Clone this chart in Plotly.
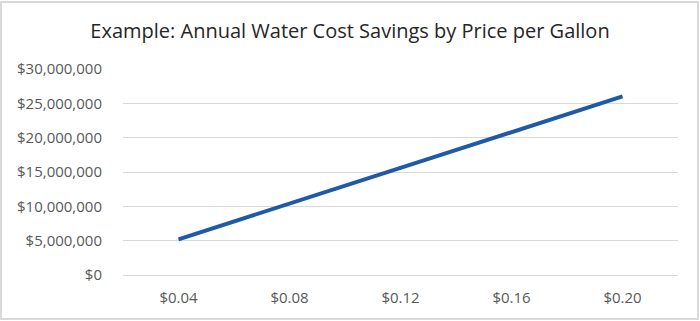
import plotly.graph_objects as go

categories = ["$0.04", "$0.08", "$0.12", "$0.16", "$0.20"]
savings = [5200000, 10400000, 15600000, 20800000, 26000000]
title_text = "Example: Annual Water Cost Savings by Price per Gallon"

W, H = 700, 321
ml, mr, mt, mb = 123, 22, 69, 46
pw, ph = W - ml - mr, H - mt - mb

fig = go.Figure()
fig.add_trace(go.Scatter(
    x=categories, y=savings, mode="lines",
    line=dict(color="#1F5AA8", width=4),
    hoverinfo="skip",
))

fig.update_layout(
    width=W, height=H,
    margin=dict(l=ml, r=mr, t=mt, b=mb),
    paper_bgcolor="white", plot_bgcolor="white",
    showlegend=False,
    font=dict(family="Open Sans", color="#595959", size=15),
    title=dict(text=title_text, x=0.5, xanchor="center", xref="container",
               y=1 - 31 / H, yanchor="middle", yref="container",
               font=dict(family="Open Sans", size=20, color="#262626")),
    xaxis=dict(type="category", range=[-0.5, 4.5], showgrid=False,
               showline=False, zeroline=False, ticks="",
               ticklabelstandoff=12,
               tickfont=dict(size=15, color="#595959")),
    yaxis=dict(range=[0, 30000000], dtick=5000000, tickprefix="$",
               tickformat=",", showgrid=True, gridcolor="#D9D9D9",
               gridwidth=1, zeroline=True, zerolinecolor="#D9D9D9",
               zerolinewidth=1, showline=False, ticks="",
               ticklabelstandoff=20,
               tickfont=dict(size=15, color="#595959")),
)
# outer chart border
fig.add_shape(type="rect", xref="paper", yref="paper",
              x0=(1 - ml) / pw, x1=(W - 2 - ml) / pw,
              y0=-(mb - 2) / ph, y1=1 + (mt - 2) / ph,
              line=dict(color="#D9D9D9", width=2), layer="below")
fig.write_html("out.html")
